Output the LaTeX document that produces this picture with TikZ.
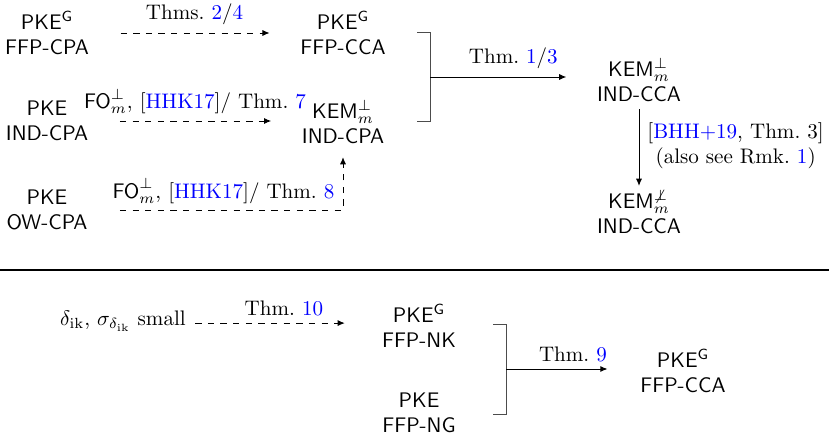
\documentclass[tikz,border=0pt]{standalone}
\usetikzlibrary{arrows.meta}
\begin{document}
\begin{tikzpicture}[x=0.475pt,y=-0.475pt,
  lbl/.style={font=\sffamily, align=center, inner sep=0pt},
  conn/.style={-{Latex[length=3.4pt,width=2.9pt]}, line width=0.45pt},
  dconn/.style={conn, dashed},
  brk/.style={line width=0.45pt, draw=black!70},
  cite/.style={text=blue}]
\useasboundingbox (0,0) rectangle (829,440);
% top part
\node[lbl] (a1) at (47,33) {PKE$^{\mathsf{G}}$\\FFP-CPA};
\node[lbl] (b1) at (343,33) {PKE$^{\mathsf{G}}$\\FFP-CCA};
\node[lbl] (a2) at (47,121) {PKE\\IND-CPA};
\node[lbl] (b2) at (343,122) {KEM$^{\perp}_{m}$\\IND-CPA};
\node[lbl] (a3) at (47,210) {PKE\\OW-CPA};
\node[lbl] (c1) at (639,80) {KEM$^{\perp}_{m}$\\IND-CCA};
\node[lbl] (c2) at (639,212) {KEM$^{\not\perp}_{m}$\\IND-CCA};

\draw[dconn, shorten <=14.9pt, shorten >=14.4pt] (a1.east) -- (a1.east -| b1.west)
  node[midway, above=3.8pt, inner sep=0pt] (t1) {Thms.~\textcolor{blue}{2}/\textcolor{blue}{4}};
\draw[dconn, shorten <=14.9pt, shorten >=14.4pt] (a2.east) -- (a2.east -| b2.west)
  node[midway, above=3.2pt, inner sep=0pt] (t2) {$\mathsf{FO}^{\perp}_{m}$, [\textcolor{blue}{HHK17}]/ Thm.~\textcolor{blue}{7}};
\draw[dconn, shorten <=15.2pt, shorten >=6.2pt] (a3.east) -| (b2.south)
  node[pos=0.25, above=2.85pt, inner sep=0pt, xshift=3.8pt] (t3) {$\mathsf{FO}^{\perp}_{m}$, [\textcolor{blue}{HHK17}]/ Thm.~\textcolor{blue}{8}};

% bracket top
\coordinate (brt) at (430,32);
\coordinate (brb) at (430,121);
\coordinate (brm) at (430,77);
\draw[brk] (417,32) -- (brt) -- (brb) -- (417,121);
\draw[conn, shorten >=14.4pt] (brm) -- (brm -| c1.west)
  node[midway, above=3.8pt, inner sep=0pt] (t4) {Thm.~\textcolor{blue}{1}/\textcolor{blue}{3}};
\draw[conn, shorten <=3.3pt, shorten >=1.9pt] (c1.south) -- (c2.north)
  node[midway, right=3.8pt, inner sep=0pt, align=center] (t5) {[\textcolor{blue}{BHH+19}, Thm.~3]\\(also see Rmk.~\textcolor{blue}{1})};

% separator
\coordinate (sl) at (0,270);
\coordinate (sr) at (829,270);
\draw[line width=0.8pt] (sl) -- (sr);

% bottom part
\node[inner sep=0pt] (d0) at (123,321) {$\delta_{\mathrm{ik}}$, $\sigma_{\delta_{\mathrm{ik}}}$ small};
\node[lbl] (e1) at (419,326) {PKE$^{\mathsf{G}}$\\FFP-NK};
\node[lbl] (e2) at (419,413) {PKE\\FFP-NG};
\node[lbl] (e3) at (683,371) {PKE$^{\mathsf{G}}$\\FFP-CCA};
\draw[dconn, shorten <=4.3pt, shorten >=17.5pt] ([yshift=-1pt]d0.east) -- ([yshift=-1pt]d0.east -| e1.west)
  node[midway, above=3.2pt, inner sep=0pt] (t6) {Thm.~\textcolor{blue}{10}};
\coordinate (bbt) at (506,324);
\coordinate (bbb) at (506,414);
\coordinate (bbm) at (506,369);
\draw[brk] (493,324) -- (bbt) -- (bbb) -- (493,414);
\draw[conn, shorten >=15.4pt] (bbm) -- (bbm -| e3.west)
  node[midway, above=3.3pt, inner sep=0pt] (t7) {Thm.~\textcolor{blue}{9}};
\end{tikzpicture}
\end{document}
